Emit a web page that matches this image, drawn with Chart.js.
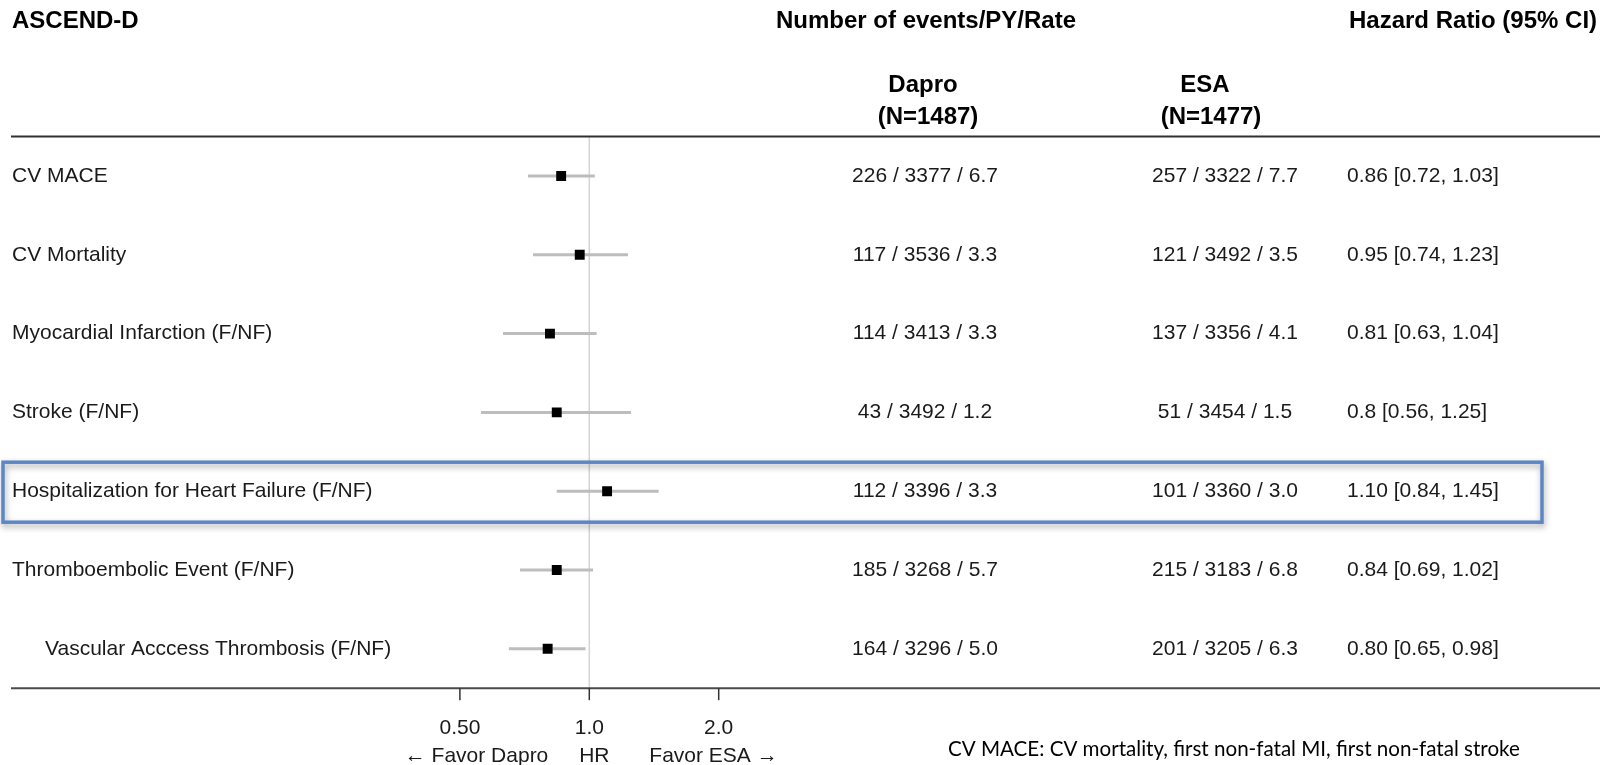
<!DOCTYPE html>
<html>
<head>
<meta charset="utf-8">
<title>ASCEND-D forest plot</title>
<script src="https://cdn.jsdelivr.net/npm/chart.js@4.4.1/dist/chart.umd.min.js"></script>
<style>
  html, body { margin: 0; padding: 0; background: #fff; }
  #wrap { width: 1600px; height: 765px; position: relative; }
</style>
</head>
<body>
<div id="wrap"><canvas id="forest"></canvas></div>
<script>
// Outcomes, top to bottom
const categories = [
  'CV MACE',
  'CV Mortality',
  'Myocardial Infarction (F/NF)',
  'Stroke (F/NF)',
  'Hospitalization for Heart Failure (F/NF)',
  'Thromboembolic Event (F/NF)',
  'Vascular Acccess Thrombosis (F/NF)'
];
// sub-outcome of the row above (drawn indented)
const isSubOutcome = [false, false, false, false, false, false, true];

// Hazard ratio point estimates and 95% CI
const hazardRatio = [0.86, 0.95, 0.81, 0.84, 1.10, 0.84, 0.80];
const ciLower = [0.72, 0.74, 0.63, 0.56, 0.84, 0.69, 0.65];
const ciUpper = [1.03, 1.23, 1.04, 1.25, 1.45, 1.02, 0.98];
const hrLabels = [
  '0.86 [0.72, 1.03]',
  '0.95 [0.74, 1.23]',
  '0.81 [0.63, 1.04]',
  '0.8 [0.56, 1.25]',
  '1.10 [0.84, 1.45]',
  '0.84 [0.69, 1.02]',
  '0.80 [0.65, 0.98]'
];

// Number of events / patient-years / rate
const daproEvents = [226, 117, 114, 43, 112, 185, 164];
const daproPY = [3377, 3536, 3413, 3492, 3396, 3268, 3296];
const daproRate = ['6.7', '3.3', '3.3', '1.2', '3.3', '5.7', '5.0'];
const esaEvents = [257, 121, 137, 51, 101, 215, 201];
const esaPY = [3322, 3492, 3356, 3454, 3360, 3183, 3205];
const esaRate = ['7.7', '3.5', '4.1', '1.5', '3.0', '6.8', '6.3'];

const tickValues = [0.5, 1, 2];
const tickLabels = ['0.50', '1.0', '2.0'];
const highlightRow = 4;

const FONT = '"Liberation Sans", Arial, Helvetica, sans-serif';

// whisker datasets, one per row
const whiskers = categories.map((name, i) => ({
  label: name + ' CI',
  data: [{ x: ciLower[i], y: i }, { x: ciUpper[i], y: i }],
  showLine: true,
  borderColor: '#bdbdbd',
  borderWidth: 3,
  pointRadius: 0,
  order: 2
}));

const squares = {
  label: 'HR',
  data: hazardRatio.map((v, i) => ({ x: v, y: i })),
  pointStyle: 'rect',
  pointRadius: 7,
  pointBackgroundColor: '#000',
  pointBorderColor: '#000',
  pointBorderWidth: 0,
  showLine: false,
  order: 1
};

const forestDecor = {
  id: 'forestDecor',
  beforeDatasetsDraw(chart) {
    const { ctx, chartArea, scales } = chart;
    const x1 = scales.x.getPixelForValue(1);
    ctx.save();
    ctx.strokeStyle = '#d4d4d4';
    ctx.lineWidth = 1.5;
    ctx.beginPath();
    ctx.moveTo(x1, chartArea.top);
    ctx.lineTo(x1, chartArea.bottom);
    ctx.stroke();
    ctx.restore();
  },
  afterDraw(chart) {
    const { ctx, chartArea, scales } = chart;
    const xs = scales.x, ys = scales.y;
    ctx.save();

    // header rule and bottom axis rule
    ctx.strokeStyle = '#303030';
    ctx.lineWidth = 2;
    ctx.beginPath();
    ctx.moveTo(11, chartArea.top);
    ctx.lineTo(1600, chartArea.top);
    ctx.stroke();
    ctx.strokeStyle = '#4a4a4a';
    ctx.beginPath();
    ctx.moveTo(11, chartArea.bottom);
    ctx.lineTo(1600, chartArea.bottom);
    ctx.stroke();

    // ticks + tick labels
    ctx.lineWidth = 1.5;
    ctx.strokeStyle = '#333';
    ctx.fillStyle = '#1a1a1a';
    ctx.font = '21px ' + FONT;
    ctx.textAlign = 'center';
    ctx.textBaseline = 'middle';
    tickValues.forEach((v, i) => {
      const px = xs.getPixelForValue(v);
      ctx.beginPath();
      ctx.moveTo(px, chartArea.bottom);
      ctx.lineTo(px, chartArea.bottom + 12);
      ctx.stroke();
      ctx.fillText(tickLabels[i], px, 728);
    });
    const x1 = xs.getPixelForValue(1);
    ctx.fillText('HR', x1 + 5, 756);
    ctx.textAlign = 'right';
    ctx.fillText('\u2190 Favor Dapro', x1 - 41, 756);
    ctx.textAlign = 'left';
    ctx.fillText('Favor ESA \u2192', x1 + 60, 756);

    // column headers
    ctx.fillStyle = '#000';
    ctx.font = 'bold 24px ' + FONT;
    ctx.textAlign = 'left';
    ctx.fillText('ASCEND-D', 12, 21);
    ctx.fillText('Hazard Ratio (95% CI)', 1349, 21);
    ctx.textAlign = 'center';
    ctx.fillText('Number of events/PY/Rate', 926, 21);
    ctx.fillText('Dapro', 923, 85);
    ctx.fillText('(N=1487)', 928, 117);
    ctx.fillText('ESA', 1205, 85);
    ctx.fillText('(N=1477)', 1211, 117);

    // row text
    ctx.font = '21px ' + FONT;
    ctx.fillStyle = '#1a1a1a';
    categories.forEach((name, i) => {
      const py = ys.getPixelForValue(i);
      ctx.textAlign = 'left';
      ctx.fillText(name, isSubOutcome[i] ? 45 : 12, py);
      ctx.textAlign = 'center';
      ctx.fillText(daproEvents[i] + ' / ' + daproPY[i] + ' / ' + daproRate[i], 925, py);
      ctx.fillText(esaEvents[i] + ' / ' + esaPY[i] + ' / ' + esaRate[i], 1225, py);
      ctx.textAlign = 'left';
      ctx.fillText(hrLabels[i], 1347, py);
    });

    // highlight box
    const hy = ys.getPixelForValue(highlightRow);
    ctx.shadowColor = 'rgba(0,0,0,0.35)';
    ctx.shadowBlur = 6;
    ctx.shadowOffsetX = 1;
    ctx.shadowOffsetY = 3;
    ctx.strokeStyle = '#5b87c6';
    ctx.lineWidth = 3.5;
    ctx.strokeRect(3, hy - 29, 1539, 60);
    ctx.shadowColor = 'transparent';

    // footnote
    const note = 'CV MACE: CV mortality, first non-fatal MI, first non-fatal stroke';
    ctx.font = '20px Lato, "Open Sans", sans-serif';
    const w = ctx.measureText(note).width;
    const size = 20 * 572 / w;
    ctx.font = size.toFixed(2) + 'px Lato, "Open Sans", sans-serif';
    ctx.fillStyle = '#000';
    ctx.textAlign = 'left';
    ctx.fillText(note, 948, 749);

    ctx.restore();
  }
};

new Chart(document.getElementById('forest'), {
  type: 'scatter',
  data: { datasets: [squares, ...whiskers] },
  options: {
    responsive: true,
    maintainAspectRatio: false,
    animation: false,
    layout: { padding: { left: 330.5, right: 751.9, top: 136.6, bottom: 76.8 } },
    scales: {
      x: { type: 'logarithmic', min: 0.25, max: 4, display: false },
      y: { type: 'linear', min: -0.5, max: 6.5, reverse: true, display: false }
    },
    plugins: {
      legend: { display: false },
      tooltip: { enabled: false }
    }
  },
  plugins: [forestDecor]
});
</script>
</body>
</html>
